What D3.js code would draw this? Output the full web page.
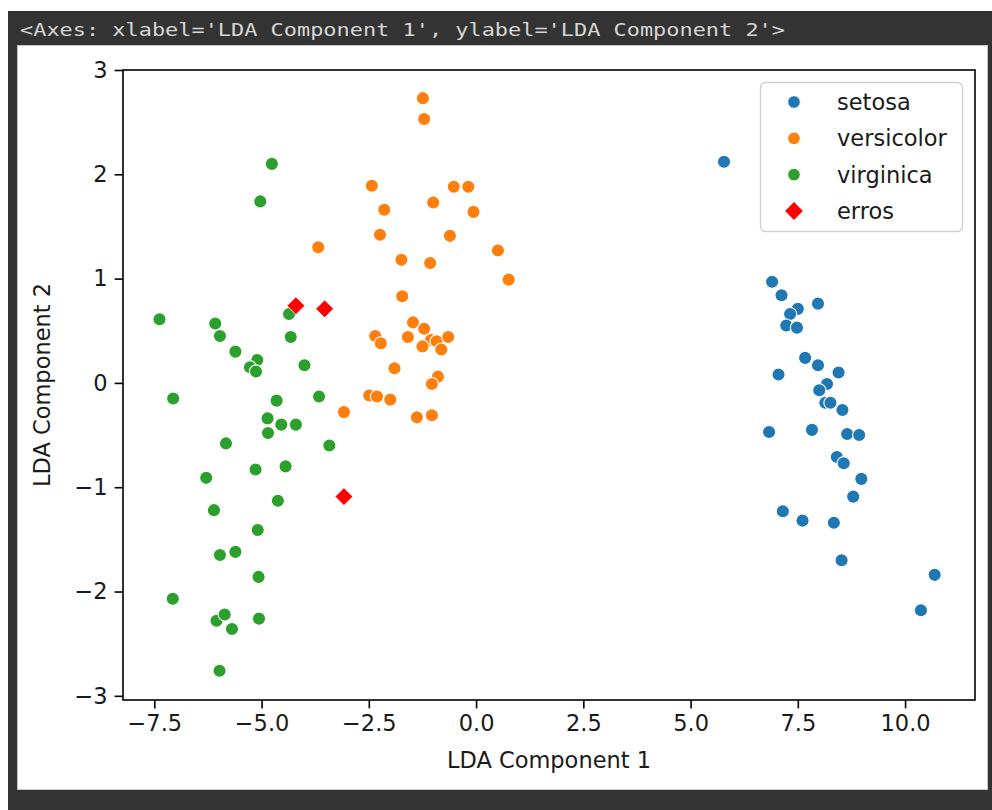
<!DOCTYPE html>
<html><head><meta charset="utf-8">
<script src="https://cdn.jsdelivr.net/npm/d3@7"></script>
<style>html,body{margin:0;padding:0;background:#fff;}svg{display:block;}</style>
</head><body>
<script>
const headerText = "<Axes: xlabel='LDA Component 1', ylabel='LDA Component 2'>";
const xLabel = "LDA Component 1";
const yLabel = "LDA Component 2";
const xTicks = [-7.5, -5.0, -2.5, 0.0, 2.5, 5.0, 7.5, 10.0];
const yTicks = [-3, -2, -1, 0, 1, 2, 3];
const categories = ["setosa", "versicolor", "virginica", "erros"];
const colors = ["#1f77b4", "#ff7f0e", "#2ca02c", "#ff0000"];

const setosa = [[5.78,2.12],[6.90,0.97],[7.12,0.84],[7.50,0.71],[7.32,0.66],[7.97,0.76],[7.23,0.55],[7.48,0.53],[7.67,0.24],[7.97,0.17],[7.05,0.08],[8.45,0.10],[8.18,-0.01],[8.00,-0.07],[8.14,-0.19],[8.26,-0.19],[8.54,-0.26],[6.83,-0.47],[7.83,-0.45],[8.65,-0.49],[8.93,-0.50],[8.41,-0.71],[8.57,-0.77],[8.98,-0.92],[8.79,-1.09],[7.15,-1.23],[7.61,-1.32],[8.34,-1.34],[8.52,-1.70],[10.69,-1.84],[10.37,-2.18]];
const versicolor = [[-1.24,2.73],[-1.21,2.53],[-2.43,1.89],[-0.52,1.88],[-0.18,1.88],[-2.14,1.66],[-1.00,1.73],[-0.06,1.64],[-2.24,1.42],[-0.61,1.41],[-3.68,1.30],[0.51,1.27],[-1.74,1.18],[-1.07,1.15],[0.76,0.99],[-1.72,0.83],[-1.47,0.58],[-1.21,0.52],[-2.35,0.45],[-2.22,0.38],[-1.59,0.44],[-1.05,0.41],[-0.92,0.40],[-0.65,0.44],[-1.25,0.35],[-0.81,0.32],[-1.90,0.14],[-0.89,0.06],[-1.03,-0.01],[-2.49,-0.12],[-2.31,-0.13],[-2.00,-0.16],[-3.08,-0.28],[-1.38,-0.33],[-1.03,-0.31]];
const virginica = [[-4.76,2.10],[-5.03,1.74],[-7.38,0.61],[-6.08,0.57],[-5.97,0.45],[-4.36,0.66],[-4.32,0.44],[-5.61,0.30],[-5.10,0.22],[-5.27,0.15],[-5.13,0.11],[-4.00,0.17],[-7.06,-0.15],[-4.65,-0.17],[-3.66,-0.13],[-4.86,-0.34],[-4.54,-0.40],[-4.20,-0.40],[-4.85,-0.48],[-5.83,-0.58],[-3.42,-0.60],[-5.14,-0.83],[-4.44,-0.80],[-6.29,-0.91],[-4.62,-1.13],[-6.11,-1.22],[-5.09,-1.41],[-5.97,-1.65],[-5.61,-1.62],[-5.07,-1.86],[-7.07,-2.07],[-6.05,-2.28],[-5.86,-2.22],[-5.69,-2.36],[-5.06,-2.26],[-5.98,-2.76]];
const errors = [[-4.20,0.74],[-3.53,0.71],[-3.08,-1.09]];

const W = 992, H = 810;
const svg = d3.select("body").append("svg").attr("width", W).attr("height", H);
const FONT = "'DejaVu Sans', sans-serif";

// frame
svg.append("rect").attr("x", 0).attr("y", 0).attr("width", W).attr("height", H).attr("fill", "#fff");
svg.append("rect").attr("x", 8).attr("y", 11).attr("width", W - 8).attr("height", H - 11).attr("fill", "#333333");
svg.append("rect").attr("x", 17.5).attr("y", 45.5).attr("width", 970).attr("height", 744).attr("fill", "#fff").attr("stroke", "#c8c8c8").attr("stroke-width", 1);
svg.append("text").attr("x", 20).attr("y", 36).attr("fill", "#d6d6d6")
  .attr("font-family", "'DejaVu Sans Mono', monospace").attr("font-size", 18)
  .attr("textLength", 765).attr("lengthAdjust", "spacingAndGlyphs")
  .text(headerText);

const L = 123, R = 975, T = 70, B = 700;
const x = d3.scaleLinear().domain([-8.23, 11.63]).range([L, R]);
const y = d3.scaleLinear().domain([-3.04, 3.0]).range([B, T]);

const fmtX = d => d3.format(".1f")(d).replace("-", "\u2212");
const fmtY = d => d3.format("d")(d).replace("-", "\u2212");

const xAxis = svg.append("g").attr("transform", `translate(0,${B})`)
  .call(d3.axisBottom(x).tickValues(xTicks).tickFormat(fmtX).tickSize(8.4).tickPadding(7));
const yAxis = svg.append("g").attr("transform", `translate(${L},0)`)
  .call(d3.axisLeft(y).tickValues(yTicks).tickFormat(fmtY).tickSize(8.4).tickPadding(7));
[xAxis, yAxis].forEach(g => {
  g.select(".domain").remove();
  g.selectAll(".tick line").attr("stroke", "#000").attr("stroke-width", 1.6);
  g.selectAll(".tick text").attr("font-family", FONT).attr("font-size", 22.5).attr("fill", "#1a1a1a");
});

// points
const sym = d3.symbol().type(d3.symbolCircle).size(Math.PI * 6.6 * 6.6);
const series = [setosa, versicolor, virginica];
series.forEach((data, i) => {
  svg.append("g").selectAll("path").data(data).join("path")
    .attr("d", sym)
    .attr("transform", d => `translate(${x(d[0])},${y(d[1])})`)
    .attr("fill", colors[i]).attr("stroke", "#fff").attr("stroke-width", 1.1);
});
const diamond = d3.symbol().type(d3.symbolSquare).size(12.6 * 12.6);
svg.append("g").selectAll("path").data(errors).join("path")
  .attr("d", diamond)
  .attr("transform", d => `translate(${x(d[0])},${y(d[1])}) rotate(45)`)
  .attr("fill", colors[3]).attr("stroke", "#fff").attr("stroke-width", 0.8);

// spines
svg.append("rect").attr("x", L).attr("y", T).attr("width", R - L).attr("height", B - T)
  .attr("fill", "none").attr("stroke", "#000").attr("stroke-width", 1.6);

// axis labels
svg.append("text").attr("x", (L + R) / 2).attr("y", 768).attr("text-anchor", "middle")
  .attr("font-family", FONT).attr("font-size", 22.5).attr("fill", "#1a1a1a").text(xLabel);
svg.append("text").attr("transform", `translate(50,${(T + B) / 2}) rotate(-90)`).attr("text-anchor", "middle")
  .attr("font-family", FONT).attr("font-size", 22.5).attr("fill", "#1a1a1a").text(yLabel);

// legend
const lg = svg.append("g");
lg.append("rect").attr("x", 760.5).attr("y", 82.5).attr("width", 202).attr("height", 149).attr("rx", 5)
  .attr("fill", "#fff").attr("fill-opacity", 0.8).attr("stroke", "#d0d0d0").attr("stroke-width", 1.3);
const rowY = d3.scalePoint().domain(categories).range([102, 211]);
categories.forEach((c, i) => {
  const cy = rowY(c);
  if (i < 3) {
    lg.append("path").attr("d", d3.symbol().type(d3.symbolCircle).size(Math.PI * 6.3 * 6.3))
      .attr("transform", `translate(794,${cy})`).attr("fill", colors[i]).attr("stroke", "#fff").attr("stroke-width", 1);
  } else {
    lg.append("path").attr("d", diamond).attr("transform", `translate(794,${cy}) rotate(45)`).attr("fill", colors[i]);
  }
  lg.append("text").attr("x", 837).attr("y", cy).attr("dy", "0.35em")
    .attr("font-family", FONT).attr("font-size", 22.5).attr("fill", "#1a1a1a").text(c);
});
</script>
</body></html>
